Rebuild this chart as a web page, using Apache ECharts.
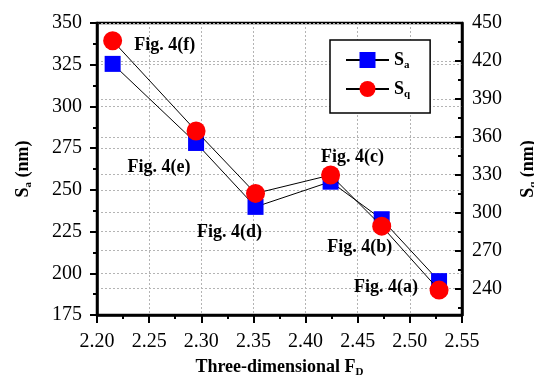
<!DOCTYPE html>
<html>
<head>
<meta charset="utf-8">
<script src="https://cdn.jsdelivr.net/npm/echarts@6/dist/echarts.min.js"></script>
<style>
html,body{margin:0;padding:0;background:#fff;}
#chart{width:534px;height:383px;}
</style>
</head>
<body>
<div id="chart"></div>
<script>
// ---- data ----
const xValues = [2.215, 2.295, 2.352, 2.424, 2.473, 2.528];
const saValues = [325.5, 278.1, 239.8, 254.9, 232.4, 195.3];
const sqValues = [436.0, 364.6, 315.2, 329.7, 289.3, 238.7];
const figLabels = ['Fig. 4(f)', 'Fig. 4(e)', 'Fig. 4(d)', 'Fig. 4(c)', 'Fig. 4(b)', 'Fig. 4(a)'];
const sqTickValues = [240, 270, 300, 330, 360, 390, 420, 450];
const sqMinorTickValues = [225, 255, 285, 315, 345, 375, 405, 435];
const labelOffsets = [[52, 5], [-37, 36], [-26, 39], [22, -18], [-22, 21], [-53, -3]];

const FONT = 'Liberation Serif';
const chart = echarts.init(document.getElementById('chart'), null, {renderer: 'canvas'});

const subRich = {
  main: {fontFamily: FONT, fontWeight: 'bold', fontSize: 18, color: '#000', lineHeight: 22, verticalAlign: 'middle'},
  sub: {fontFamily: FONT, fontWeight: 'bold', fontSize: 11, color: '#000', lineHeight: 22, verticalAlign: 'bottom', padding: [6, 0, 0, 0]}
};
const tickRich = {t: {fontFamily: FONT, fontSize: 20, color: '#000', fontWeight: 'normal', lineHeight: 22}};
const gridLine = {show: true, lineStyle: {color: '#b4b4b4', type: [2, 2], width: 1}};

const option = {
  animation: false,
  backgroundColor: '#fff',
  textStyle: {fontFamily: FONT},
  grid: {left: 97, right: 72, top: 23, bottom: 68, show: true, borderColor: '#000', borderWidth: 2.5,
         containLabel: false, outerBoundsMode: 'none'},
  legend: {
    left: 330, top: 40,
    orient: 'vertical',
    backgroundColor: '#fff',
    borderColor: '#000', borderWidth: 1.5, borderRadius: 0,
    padding: [11, 20, 13, 15],
    itemWidth: 43, itemHeight: 20, itemGap: 9,
    data: ['Sa', 'Sq'],
    formatter: function (n) { return '{main|S}{sub|' + n.slice(1) + '}'; },
    textStyle: {rich: subRich}
  },
  xAxis: {
    type: 'value', min: 2.2, max: 2.55, interval: 0.05,
    name: '{main|Three-dimensional F}{sub|D}',
    nameLocation: 'middle', nameGap: 41,
    nameTextStyle: {rich: subRich},
    axisLine: {show: true, lineStyle: {color: '#000', width: 2.5}},
    axisTick: {show: true, inside: false, length: 8, lineStyle: {color: '#000', width: 2}},
    minorTick: {show: true, splitNumber: 2, length: 4, lineStyle: {color: '#000', width: 2}},
    axisLabel: {margin: 16, formatter: v => '{t|' + v.toFixed(2) + '}', rich: tickRich},
    splitLine: gridLine
  },
  yAxis: [
    {
      type: 'value', min: 175, max: 350, interval: 25, position: 'left',
      name: '{main|S}{sub|a}{main| (nm)}',
      nameLocation: 'middle', nameGap: 63,
      nameTextStyle: {rich: subRich},
      axisLine: {show: true, lineStyle: {color: '#000', width: 2.5}},
      axisTick: {show: true, inside: false, length: 7, lineStyle: {color: '#000', width: 2}},
      minorTick: {show: true, splitNumber: 2, length: 4, lineStyle: {color: '#000', width: 2}},
      axisLabel: {margin: 15, formatter: v => '{t|' + v + '}', rich: tickRich},
      splitLine: gridLine
    },
    {
      type: 'value', min: 219, max: 450, position: 'right',
      name: '{main|S}{sub|q}{main| (nm)}',
      nameLocation: 'middle', nameGap: 55,
      nameTextStyle: {rich: subRich},
      axisLine: {show: true, lineStyle: {color: '#000', width: 2.5}},
      axisTick: {show: true, inside: true, length: 7, customValues: sqTickValues, lineStyle: {color: '#000', width: 2}},
      axisLabel: {margin: 10, customValues: sqTickValues, formatter: v => '{t|' + v + '}', rich: tickRich},
      splitLine: gridLine
    },
    {
      type: 'value', min: 219, max: 450, position: 'right',
      axisLine: {show: false},
      axisTick: {show: true, inside: true, length: 4, customValues: sqMinorTickValues, lineStyle: {color: '#000', width: 2}},
      axisLabel: {show: false, customValues: sqMinorTickValues},
      splitLine: {show: false}
    }
  ],
  series: [
    {
      name: 'Sa', type: 'line', yAxisIndex: 0,
      symbol: 'rect', symbolSize: 16,
      itemStyle: {color: '#0000ff'},
      lineStyle: {color: '#000', width: 1},
      data: xValues.map((x, i) => [x, saValues[i]]),
      z: 3
    },
    {
      name: 'Sq', type: 'line', yAxisIndex: 1,
      symbol: 'circle', symbolSize: 19,
      itemStyle: {color: '#ff0000'},
      lineStyle: {color: '#000', width: 1},
      data: xValues.map((x, i) => ({
        value: [x, sqValues[i]],
        label: {show: true, position: 'inside', offset: labelOffsets[i], formatter: figLabels[i]}
      })),
      label: {fontFamily: FONT, fontWeight: 'bold', fontSize: 18, color: '#000'},
      z: 4
    }
  ]
};
chart.setOption(option);
</script>
</body>
</html>
